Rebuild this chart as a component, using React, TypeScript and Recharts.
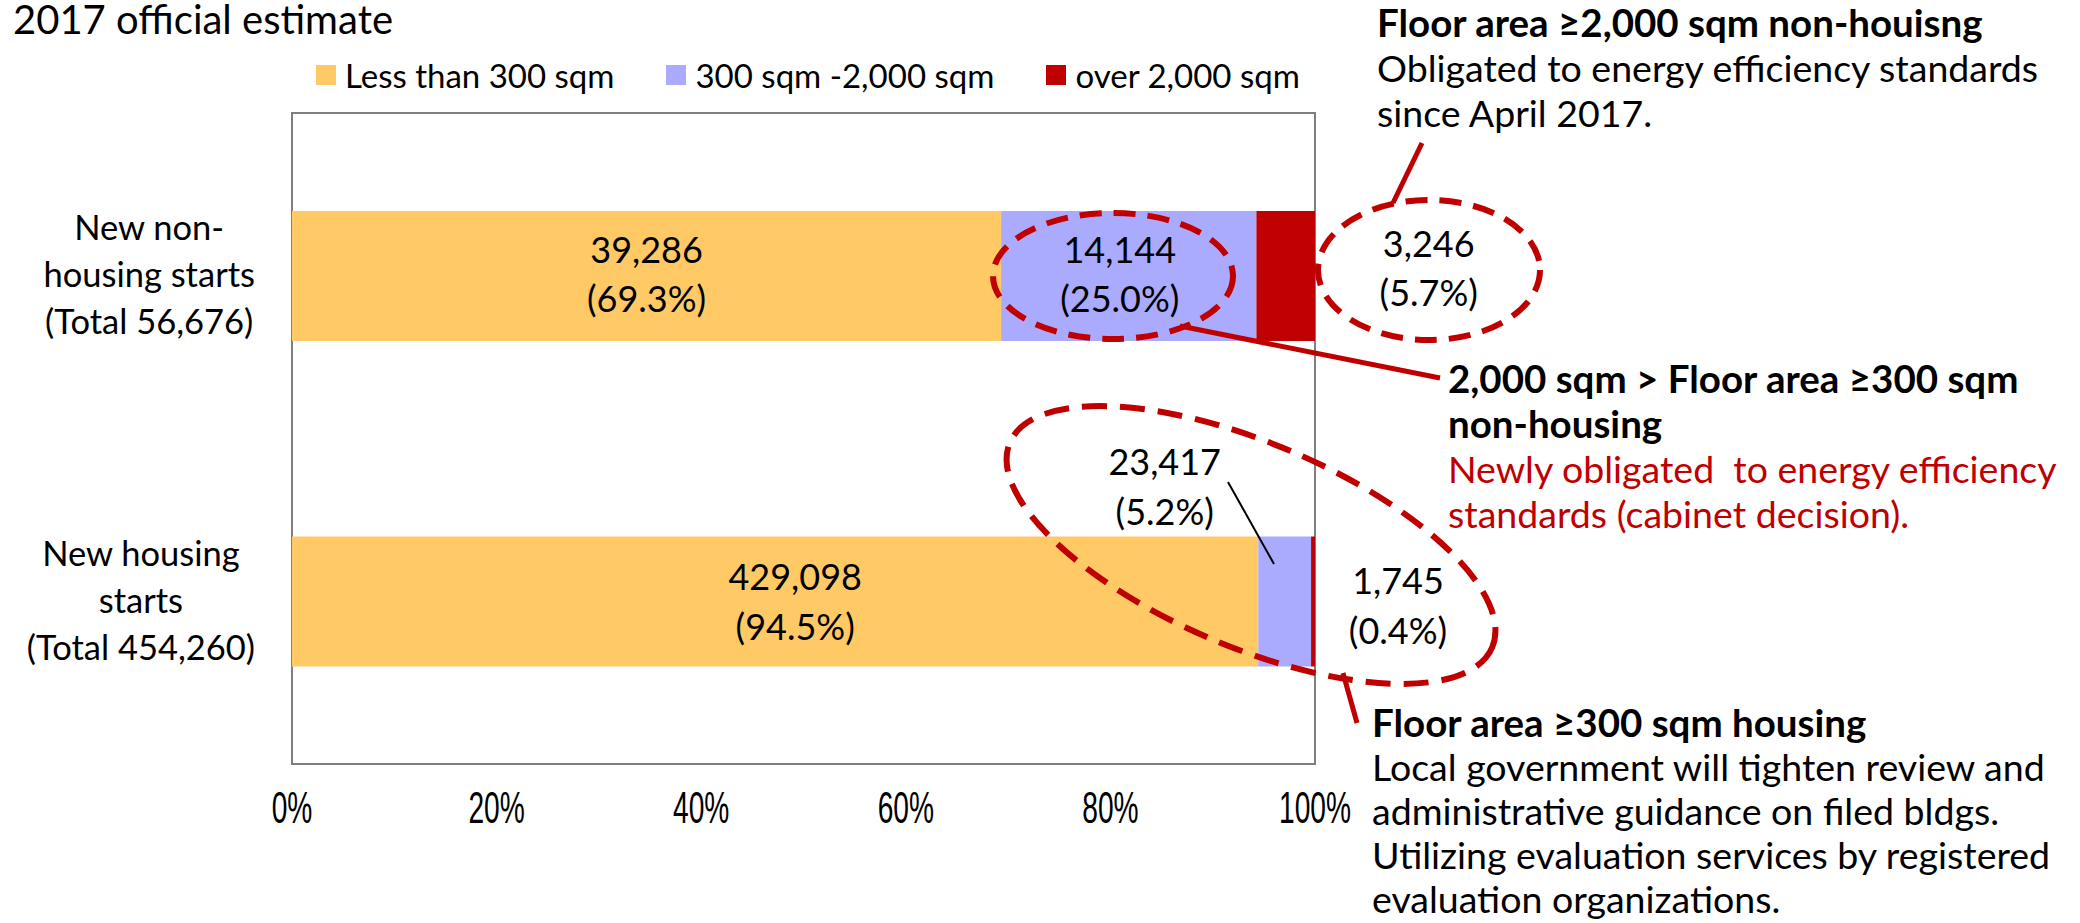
import React from "react";
import { BarChart, Bar, XAxis, YAxis, ReferenceArea, LabelList, Legend } from "recharts";

// categories (top to bottom) and how their names wrap on the axis
const categories = ["New non-housing starts", "New housing starts"];
const categoryLines = [
  ["New non-", "housing starts"],
  ["New housing", "starts"],
];

const seriesNames = ["Less than 300 sqm", "300 sqm -2,000 sqm", "over 2,000 sqm"];
const lessThan300 = [39286, 429098];
const from300To2000 = [14144, 23417];
const over2000 = [3246, 1745];

const xTicks = [0, 0.2, 0.4, 0.6, 0.8, 1];

const series = [lessThan300, from300To2000, over2000];
const totals = categories.map((_, i) => series.reduce((s, arr) => s + arr[i], 0));
const seriesKeys = ["under300", "mid", "over2000"];

const rows = categories.map((name, i) => ({
  name,
  under300: lessThan300[i],
  mid: from300To2000[i],
  over2000: over2000[i],
}));

const COLORS = ["#FFCA66", "#AAAAFF", "#C00000"];
const RED = "#C00000";
const FONT = "Lato, 'Open Sans', sans-serif";
const TICK_FONT = "'Liberation Sans', Arial, sans-serif";

// manual nudges of the data labels (as in the original slide)
const labelShift = [
  [{ dx: 0, dy: 0 }, { dx: 20, dy: 2 }],
  [{ dx: -9, dy: 0 }, { dx: -120, dy: -113 }],
  [{ dx: 143, dy: -6 }, { dx: 85, dy: 6 }],
];

let ctx: CanvasRenderingContext2D | null = null;
function measure(text: string, size: number) {
  if (!ctx) ctx = document.createElement("canvas").getContext("2d");
  if (!ctx) return text.length * size * 0.5;
  ctx.font = `${size}px Lato`;
  return ctx.measureText(text).width;
}

const fmt = (v: number) => v.toLocaleString("en-US");

const makeLabel = (s: number) => (props: any) => {
  const { x, y, width, height, index } = props;
  const v = series[s][index];
  if (v == null) return null;
  const sh = labelShift[s][index];
  const cx = Number(x) + Number(width) / 2 + sh.dx;
  const base = Number(y) + Number(height) / 2 - 13.5 + sh.dy;
  const pct = ((v / totals[index]) * 100).toFixed(1);
  return (
    <g>
      <text x={cx} y={base} textAnchor="middle" fontFamily={FONT} fontSize={36} fill="#000">
        {fmt(v)}
      </text>
      <text x={cx} y={base + 49.5} textAnchor="middle" fontFamily={FONT} fontSize={36} fill="#000">
        ({pct}%)
      </text>
    </g>
  );
};

const CategoryTick = (props: any) => {
  const { x, y, payload } = props;
  const i = categories.indexOf(payload.value);
  if (i < 0) return null;
  const lines = [...categoryLines[i], `(Total ${fmt(totals[i])})`];
  const w = Math.max(...lines.map((l) => measure(l, 34.5)));
  const cx = Number(x) - w / 2;
  return (
    <g>
      {lines.map((l, k) => (
        <text key={k} x={cx} y={Number(y) - 35.75 + k * 47} textAnchor="middle" fontFamily={FONT} fontSize={34.5} fill="#000">
          {l}
        </text>
      ))}
    </g>
  );
};

// condensed percent ticks
const PercentTick = (props: any) => {
  const { x, y, payload } = props;
  return (
    <g transform={`translate(${x},${Number(y) + 59}) scale(0.64,1)`}>
      <text x={0} y={0} textAnchor="middle" fontFamily={TICK_FONT} fontSize={44} fill="#000">
        {Math.round(payload.value * 100)}%
      </text>
    </g>
  );
};

// zero-size box so the legend does not eat into the plot area
const LegendContent = () => (
  <div style={{ position: "relative", width: 0, height: 0 }}>
    <div
      style={{
        position: "absolute",
        left: 0,
        top: 0,
        display: "flex",
        alignItems: "center",
        fontFamily: FONT,
        fontSize: 33,
        lineHeight: "40px",
        whiteSpace: "nowrap",
      }}
    >
      {seriesNames.map((n, i) => (
        <div key={n} style={{ display: "flex", alignItems: "center", marginRight: 52 }}>
          <span style={{ display: "inline-block", width: 20, height: 20, background: COLORS[i], marginRight: 9 }} />
          <span>{n}</span>
        </div>
      ))}
    </div>
  </div>
);

const note = (lines: { t: string; bold?: boolean; red?: boolean }[], x: number, y0: number, step: number) =>
  lines.map((l, k) => (
    <text
      key={k}
      x={x}
      y={y0 + k * step}
      fontFamily={FONT}
      fontSize={l.bold ? 38.5 : 37.5}
      fontWeight={l.bold ? 700 : 400}
      fill={l.red ? RED : "#000"}
      style={{ whiteSpace: "pre" }}
    >
      {l.t}
    </text>
  ));

export default function App() {
  return (
    <div style={{ position: "absolute", left: 0, top: 0, width: 2080, height: 923, background: "#fff" }}>
      <BarChart
        width={2080}
        height={923}
        data={rows}
        layout="vertical"
        stackOffset="expand"
        barSize={130}
        margin={{ top: 113, right: 765, bottom: 99, left: 0 }}
      >
        <XAxis
          type="number"
          domain={[0, 1]}
          ticks={xTicks}
          interval={0}
          axisLine={false}
          tickLine={false}
          tickSize={0}
          tickMargin={0}
          height={60}
          tick={<PercentTick />}
        />
        <YAxis
          type="category"
          dataKey="name"
          width={292}
          axisLine={false}
          tickLine={false}
          tickSize={0}
          tickMargin={37}
          interval={0}
          tick={<CategoryTick />}
        />
        <Legend
          layout="horizontal"
          verticalAlign="middle"
          align="left"
          content={<LegendContent />}
          wrapperStyle={{ top: 55, left: 316, width: 0, height: 0, overflow: "visible" }}
        />
        {seriesKeys.map((k, s) => (
          <Bar key={k} dataKey={k} name={seriesNames[s]} stackId="a" fill={COLORS[s]} isAnimationActive={false}>
            <LabelList dataKey={k} content={makeLabel(s)} />
          </Bar>
        ))}
        <ReferenceArea x1={0} x2={1} fill="none" stroke="#7f7f7f" strokeWidth={2} ifOverflow="visible" />
      </BarChart>

      <svg width={2080} height={923} style={{ position: "absolute", left: 0, top: 0, pointerEvents: "none" }}>
        <text x={13} y={34} fontFamily={FONT} fontSize={40} fill="#000">
          2017 official estimate
        </text>

        {/* dashed call-out ellipses */}
        <ellipse cx={1113} cy={276} rx={120} ry={63} fill="none" stroke={RED} strokeWidth={6} strokeDasharray="22 12" />
        <ellipse cx={1429} cy={270} rx={111} ry={70} fill="none" stroke={RED} strokeWidth={6} strokeDasharray="22 12" />
        <ellipse
          cx={1251}
          cy={545}
          rx={262}
          ry={102}
          transform="rotate(23 1251 545)"
          fill="none"
          stroke={RED}
          strokeWidth={6}
          strokeDasharray="25 13"
        />

        {/* connectors */}
        <line x1={1422} y1={143} x2={1393} y2={203} stroke={RED} strokeWidth={5} />
        <line x1={1180} y1={326} x2={1440} y2={378} stroke={RED} strokeWidth={5} />
        <line x1={1343} y1={673} x2={1357} y2={723} stroke={RED} strokeWidth={5} />
        <line x1={1228} y1={482} x2={1274} y2={564} stroke="#000" strokeWidth={2} />

        {note(
          [
            { t: "Floor area \u22652,000 sqm non-houisng", bold: true },
            { t: "Obligated to energy efficiency standards" },
            { t: "since April 2017." },
          ],
          1377,
          37,
          45
        )}
        {note(
          [
            { t: "2,000 sqm > Floor area \u2265300 sqm", bold: true },
            { t: "non-housing", bold: true },
            { t: "Newly obligated  to energy efficiency", red: true },
            { t: "standards (cabinet decision).", red: true },
          ],
          1448,
          393,
          45
        )}
        {note(
          [
            { t: "Floor area \u2265300 sqm housing", bold: true },
            { t: "Local government will tighten review and" },
            { t: "administrative guidance on filed bldgs." },
            { t: "Utilizing evaluation services by registered" },
            { t: "evaluation organizations." },
          ],
          1372,
          737,
          44
        )}
      </svg>
    </div>
  );
}
